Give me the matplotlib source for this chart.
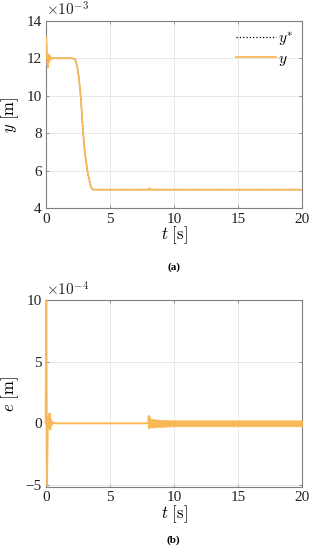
import matplotlib
matplotlib.use("Agg")
import matplotlib.pyplot as plt
import numpy as np

plt.rcParams['font.family'] = ['Liberation Serif', 'DejaVu Serif']
plt.rcParams['mathtext.fontset'] = 'cm'

# (a) position, values in 1e-3 m
t_y = [0, 0.04, 0.08, 0.12, 0.17, 0.22, 0.28, 0.35, 0.45, 0.6, 1.0, 2.0, 2.3, 2.45, 2.6,
       2.75, 2.9, 3.05, 3.25, 3.45, 3.6, 3.7, 4.0, 8.0, 8.08, 8.15, 8.25, 8.4, 20]
y = [12.0, 13.1, 12.6, 11.8, 11.5, 12.2, 11.8, 12.1, 11.95, 12.0, 12.0, 12.0, 11.95, 11.6, 10.9,
     9.8, 8.2, 7.0, 6.0, 5.35, 5.05, 5.0, 5.0, 5.0, 5.07, 4.96, 5.03, 5.0, 5.0]
t_ref = [0, 2.0, 2.3, 2.45, 2.6, 2.75, 2.9, 3.05, 3.25, 3.45, 3.6, 3.7, 20]
y_ref = [12.0, 12.0, 11.95, 11.6, 10.9, 9.8, 8.2, 7.0, 6.0, 5.35, 5.05, 5.0, 5.0]

# (b) error, values in 1e-4 m
t_e = [0, 0.04, 0.07, 0.1, 0.14, 0.18, 0.25, 0.3, 0.35, 0.42, 0.5, 0.6, 0.8, 1.0, 8.0,
       8.04, 8.08, 8.12, 8.16, 8.2]
e = [0, 10.0, 3.0, -5.0, -1.5, 0.5, -0.3, 0.8, -0.5, 0.3, -0.1, 0.05, 0, 0, 0,
     0.6, -0.4, 0.5, -0.3, 0.3]
t_band = [8.2, 9.0, 10.0, 12.0, 15.0, 20.0]
e_hi = [0.35, 0.28, 0.24, 0.24, 0.24, 0.24]
e_lo = [-0.35, -0.28, -0.24, -0.24, -0.24, -0.24]

orange = '#F9B856'
spine_c = '#7f7f7f'

fig = plt.figure(figsize=(3.13, 5.5), dpi=100)
ax1 = fig.add_axes([0.146, 0.621, 0.819, 0.3415])
ax2 = fig.add_axes([0.146, 0.114, 0.819, 0.340])


def style(ax):
    ax.grid(True, color='#e5e5e5', linewidth=0.6)
    ax.set_axisbelow(True)
    for s in ax.spines.values():
        s.set_color(spine_c)
        s.set_linewidth(0.8)
    ax.tick_params(direction='in', length=2.5, width=0.6, color=spine_c,
                   top=True, right=True, labelsize=11, pad=3, labelcolor='#222222')
    ax.set_xlim(0, 20)
    ax.set_xticks([0, 5, 10, 15, 20])
    ax.set_xlabel(r'$t\ [\mathrm{s}]$', fontsize=12, labelpad=-1)
    ax.yaxis.set_label_coords(-0.098, 0.5)


ax1.plot(t_ref, y_ref, ':', color='black', lw=0.9, label=r'$y^{*}$')
ax1.plot(t_y, y, color=orange, lw=1.3, label=r'$y$', zorder=3)
style(ax1)
ax1.set_ylim(4, 14)
ax1.set_yticks([4, 6, 8, 10, 12, 14])
ax1.text(0.0, 1.01, r'$\times10^{-3}$', transform=ax1.transAxes, fontsize=11,
         ha='left', va='bottom', color='#222222')
ax1.set_ylabel(r'$y\ [\mathrm{m}]$', fontsize=12)
ax1.legend(loc='upper right', frameon=False, fontsize=11, handlelength=2.6,
           handletextpad=0.1, labelspacing=0.3, borderaxespad=0.2)
fig.text(0.555, 0.515, '(a)', fontsize=8, fontweight='bold', ha='center', va='center')

ax2.plot(t_e, e, color=orange, lw=1.4, zorder=3, clip_on=False)
ax2.fill_between(t_band, e_lo, e_hi, color=orange, lw=0.5, zorder=3)
style(ax2)
ax2.set_ylim(-5.2, 10)
ax2.set_yticks([-5, 0, 5, 10])
ax2.text(0.0, 1.01, r'$\times10^{-4}$', transform=ax2.transAxes, fontsize=11,
         ha='left', va='bottom', color='#222222')
ax2.set_ylabel(r'$e\ [\mathrm{m}]$', fontsize=12)
fig.text(0.555, 0.018, '(b)', fontsize=8, fontweight='bold', ha='center', va='center')

fig.savefig('out.png', dpi=100)
